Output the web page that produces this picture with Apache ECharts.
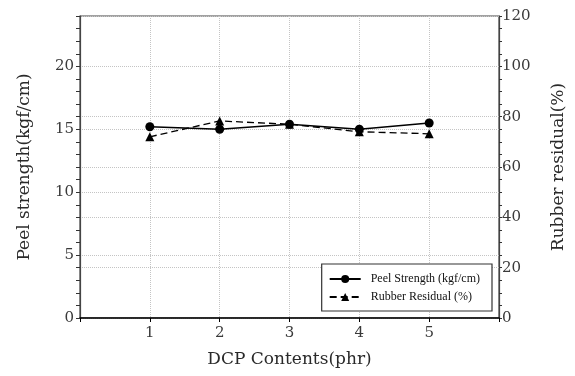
<!DOCTYPE html>
<html>
<head>
<meta charset="utf-8">
<script src="https://cdn.jsdelivr.net/npm/echarts@6/dist/echarts.min.js"></script>
<style>html,body{margin:0;padding:0;background:#fff}#c{width:575px;height:376px}</style>
</head>
<body>
<div id="c"></div>
<script>
const dcpContents = [1, 2, 3, 4, 5];
const peelStrength = [15.2, 15.0, 15.4, 15.0, 15.5];
const rubberResidual = [72.0, 78.3, 77.0, 74.0, 73.2];
const leftTickLabels = [0, 5, 10, 15, 20];
const rightTickLabels = [0, 20, 40, 60, 80, 100, 120];

const serif = 'DejaVu Serif';
const legendFont = 'Liberation Serif';
const grid = '#c4c4c4';

const chart = echarts.init(document.getElementById('c'), null, {renderer: 'canvas'});
chart.setOption({
  animation: false,
  backgroundColor: '#fff',
  grid: {left: 80, right: 76, top: 16, bottom: 58, show: true, borderColor: '#444', borderWidth: 1.2},
  legend: {
    orient: 'vertical', right: 83, bottom: 65,
    backgroundColor: '#fff', borderColor: '#333', borderWidth: 1.2,
    padding: [9, 12, 8, 7], itemWidth: 31, itemHeight: 10, itemGap: 6,
    textStyle: {fontFamily: legendFont, fontSize: 12, color: '#111', padding: [0, 0, 0, 5]},
    data: ['Peel Strength (kgf/cm)', 'Rubber Residual (%)']
  },
  xAxis: {
    type: 'value', min: 0, max: 6, interval: 1,
    name: 'DCP Contents(phr)', nameLocation: 'middle', nameGap: 33,
    nameTextStyle: {fontFamily: serif, fontSize: 17, color: '#2a2a2a'},
    axisLine: {lineStyle: {color: '#000', width: 1.5}},
    axisTick: {length: 4, lineStyle: {color: '#000'}},
    axisLabel: {fontFamily: serif, fontSize: 15, color: '#3a3a3a', margin: 8,
      formatter: v => dcpContents.indexOf(v) >= 0 ? String(v) : ''},
    splitLine: {show: true, lineStyle: {color: grid, type: 'dotted', width: 1}}
  },
  yAxis: [
    {
      type: 'value', position: 'left', min: 0, max: 24, interval: 1,
      name: 'Peel strength(kgf/cm)', nameLocation: 'middle', nameGap: 47, nameRotate: 90,
      nameTextStyle: {fontFamily: serif, fontSize: 17, color: '#2a2a2a'},
      axisLine: {show: true, lineStyle: {color: '#444', width: 1.2}},
      axisTick: {show: true, length: 4, lineStyle: {color: '#333'}},
      axisLabel: {fontFamily: serif, fontSize: 15, color: '#3a3a3a', margin: 6,
        formatter: v => leftTickLabels.indexOf(v) >= 0 ? String(v) : ''},
      splitLine: {show: false}
    },
    {
      type: 'value', position: 'right', min: 0, max: 120, interval: 5,
      name: 'Rubber residual(%)', nameLocation: 'middle', nameGap: 51, nameRotate: 90,
      nameTextStyle: {fontFamily: serif, fontSize: 17, color: '#2a2a2a'},
      axisLine: {show: true, lineStyle: {color: '#444', width: 1.2}},
      axisTick: {show: true, length: 3, lineStyle: {color: '#333'}},
      axisLabel: {fontFamily: serif, fontSize: 15, color: '#3a3a3a', margin: 3,
        formatter: v => rightTickLabels.indexOf(v) >= 0 ? String(v) : ''},
      splitLine: {show: false}
    },
    {
      type: 'value', position: 'left', min: 0, max: 24, interval: 5,
      axisLine: {show: false}, axisTick: {show: false}, axisLabel: {show: false},
      splitLine: {show: true, lineStyle: {color: grid, type: 'dotted', width: 1}}
    },
    {
      type: 'value', position: 'right', min: 0, max: 120, interval: 20,
      axisLine: {show: false}, axisTick: {show: false}, axisLabel: {show: false},
      splitLine: {show: true, lineStyle: {color: grid, type: 'dotted', width: 1}}
    }
  ],
  series: [
    {
      name: 'Peel Strength (kgf/cm)', type: 'line', yAxisIndex: 0, z: 3,
      data: dcpContents.map((x, i) => [x, peelStrength[i]]),
      symbol: 'circle', symbolSize: 9,
      lineStyle: {color: '#000', width: 1.5, type: 'solid'},
      itemStyle: {color: '#000'}
    },
    {
      name: 'Rubber Residual (%)', type: 'line', yAxisIndex: 1, z: 2,
      data: dcpContents.map((x, i) => [x, rubberResidual[i]]),
      symbol: 'triangle', symbolSize: 9,
      lineStyle: {color: '#000', width: 1.3, type: [7, 4]},
      itemStyle: {color: '#000'}
    }
  ]
});
</script>
</body>
</html>
